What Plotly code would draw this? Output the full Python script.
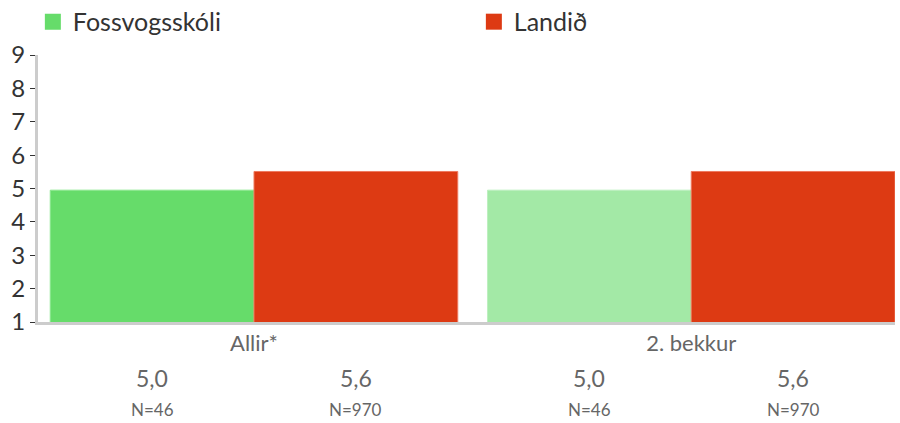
import plotly.graph_objects as go

categories = ["Allir*", "2. bekkur"]
series_names = ["Fossvogsskóli", "Landið"]
fossvogur = [4.95, 4.95]
landid = [5.51, 5.51]
fossvogur_labels = ["5,0", "5,0"]
landid_labels = ["5,6", "5,6"]
fossvogur_n = ["N=46", "N=46"]
landid_n = ["N=970", "N=970"]
y_ticks = [1, 2, 3, 4, 5, 6, 7, 8, 9]

green_colors = ["#66dc6a", "#a3e9a6"]
red_color = "#dd3a13"
FONT = "Lato"

fig = go.Figure()
fig.add_trace(go.Bar(x=categories, y=fossvogur, name=series_names[0],
                     marker=dict(color=green_colors, line=dict(color=["#8ae88d", "#bdf0bf"], width=1)),
                     showlegend=False))
fig.add_trace(go.Bar(x=categories, y=landid, name=series_names[1],
                     marker=dict(color=red_color, line=dict(color="#ee7a5f", width=1)),
                     showlegend=False))
# legend entries
fig.add_trace(go.Scatter(x=[None], y=[None], mode="markers", name=series_names[0],
                         marker=dict(symbol="square", size=18, color=green_colors[0])))
fig.add_trace(go.Scatter(x=[None], y=[None], mode="markers", name=series_names[1],
                         marker=dict(symbol="square", size=18, color=red_color)))

bargap = 0.068
half = (1 - bargap) / 4
annotations = []
for i, cat in enumerate(categories):
    for xpos, val, n in [(i - half, fossvogur_labels[i], fossvogur_n[i]),
                         (i + half, landid_labels[i], landid_n[i])]:
        annotations.append(dict(x=xpos, y=-0.21, xref="x", yref="paper", text=val,
                                showarrow=False, font=dict(family=FONT, size=23, color="#666666"),
                                yanchor="middle"))
        annotations.append(dict(x=xpos, y=-0.326, xref="x", yref="paper", text=n,
                                showarrow=False, font=dict(family=FONT, size=17, color="#666666"),
                                yanchor="middle"))

fig.update_layout(
    width=900, height=423,
    margin=dict(l=38, r=5, t=55, b=101, autoexpand=False),
    plot_bgcolor="white", paper_bgcolor="white",
    barmode="group", bargap=bargap, bargroupgap=0,
    font=dict(family=FONT, color="#333333"),
    legend=dict(orientation="h", x=-0.006, y=1.21,
                xanchor="left", yanchor="top", entrywidth=396, entrywidthmode="pixels",
                font=dict(family=FONT, size=25, color="#333333"), itemclick=False),
    annotations=annotations,
    xaxis=dict(range=[-0.494, 1.466], showgrid=False, zeroline=False, showline=True,
               linecolor="#cccccc", linewidth=3, ticks="", layer="below traces",
               tickfont=dict(family=FONT, size=22, color="#666666")),
    yaxis=dict(range=[1, 9], tickvals=y_ticks, showgrid=False, zeroline=False, showline=True,
               linecolor="#cccccc", linewidth=3, ticks="outside", ticklen=5, tickcolor="#333333",
               tickwidth=1, tickfont=dict(family=FONT, size=24, color="#333333")),
)

fig.write_html("out.html", config={"displayModeBar": False},
               post_script="document.body.style.margin='0';")
